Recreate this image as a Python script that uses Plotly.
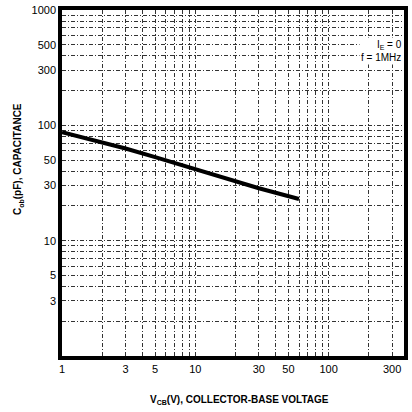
import plotly.graph_objects as go
import numpy as np

# Data
vcb = [1, 2, 3, 5, 10, 20, 30, 60]
cob = [87, 71, 63, 53, 41.5, 32.5, 28.5, 23]

x_grid = [m * 10 ** e for e in range(0, 3) for m in range(1, 10)] + [1000]
x_ticks = [1, 3, 5, 10, 30, 50, 100, 300]
x_ticktext = ["1", "3", "5", "10", "30", "50", "100", "300"]
y_grid = [m * 10 ** e for e in range(0, 3) for m in range(1, 10)] + [1000]
y_ticks = [3, 5, 10, 30, 50, 100, 300, 500, 1000]
y_ticktext = ["3", "5", "10", "30", "50", "100", "300", "500", "1000"]

fig = go.Figure()
fig.add_trace(go.Scatter(x=vcb, y=cob, mode="lines", line=dict(color="black", width=4),
                         showlegend=False, hoverinfo="skip"))

grid_style = dict(gridcolor="#333333", gridwidth=1, griddash="4px,2px,1px,2px")
axis_common = dict(
    type="log", showline=True, linecolor="black", linewidth=3.5, mirror=True,
    showgrid=True, zeroline=False, ticks="",
    tickfont=dict(family="Liberation Sans, Arial", size=11, color="black"),
    **grid_style,
)

fig.update_xaxes(range=[0, np.log10(368)], tickvals=x_ticks, ticktext=x_ticktext,
                 minor=dict(tickvals=x_grid, showgrid=True, ticks="", **grid_style),
                 **axis_common)
fig.update_yaxes(range=[0, 3], tickvals=y_ticks, ticktext=y_ticktext,
                 minor=dict(tickvals=y_grid, showgrid=True, ticks="", **grid_style),
                 **axis_common)

fig.add_annotation(x=0.5, y=-0.105, xref="paper", yref="paper", showarrow=False,
                   text="<b>V<sub>CB</sub>(V), COLLECTOR-BASE VOLTAGE</b>",
                   font=dict(family="Liberation Sans, Arial", size=10, color="black"),
                   xanchor="center", yanchor="top", xshift=6)
fig.add_annotation(x=-0.128, y=0.57, xref="paper", yref="paper", showarrow=False,
                   text="<b>C<sub>ob</sub>(pF), CAPACITANCE</b>", textangle=-90,
                   font=dict(family="Liberation Sans, Arial", size=10, color="black"),
                   xanchor="center", yanchor="middle")
fig.add_annotation(x=np.log10(170), y=np.log10(440), xref="x", yref="y", showarrow=False,
                   text="I<sub>E</sub> = 0<br>f = 1MHz", align="right",
                   font=dict(family="Liberation Sans, Arial", size=10, color="black"),
                   bgcolor="white", xanchor="left", yanchor="middle")

fig.update_layout(width=412, height=412, margin=dict(l=62, r=4, t=10, b=56),
                  paper_bgcolor="white", plot_bgcolor="white")
fig.write_html("out.html")
